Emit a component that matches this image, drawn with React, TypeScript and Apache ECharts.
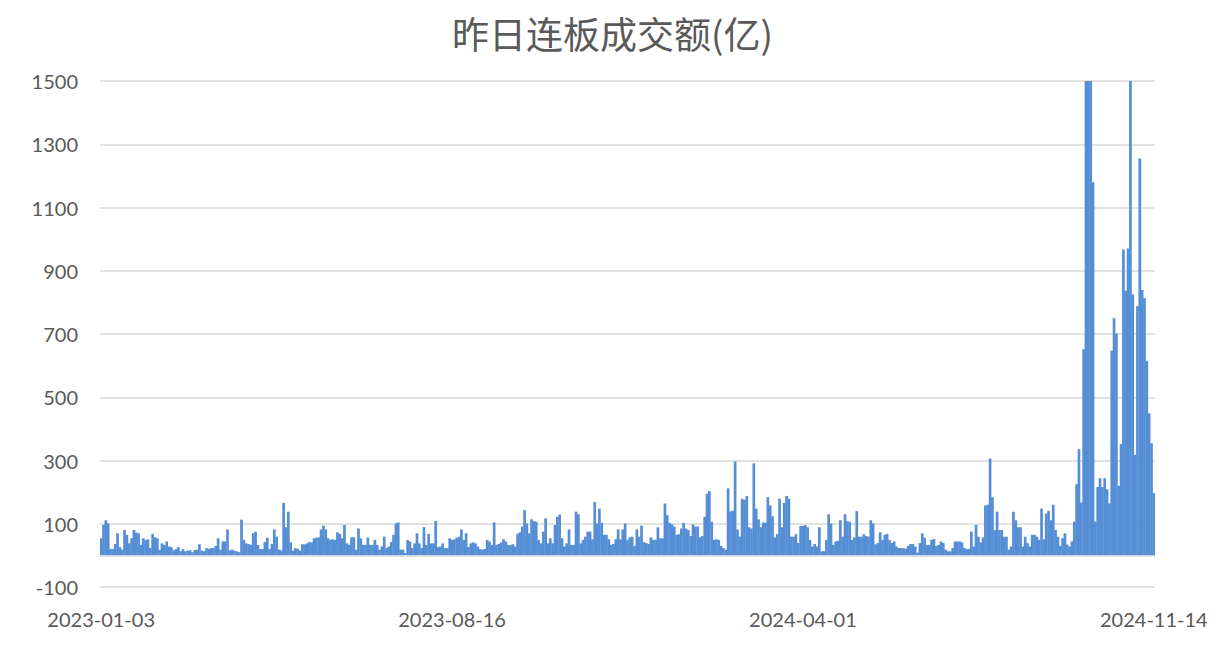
import React, { useEffect, useRef } from "react";
import * as echarts from "echarts";

const titleText = "昨日连板成交额(亿)";
const tickLabels = ["2023-01-03", "2023-08-16", "2024-04-01", "2024-11-14"];
const tickStep = 150;

const seg2023a = [
  54, 96, 111, 101, 20, 20, 36, 70, 26, 18,
  80, 65, 38, 54, 80, 72, 70, 33, 54, 49,
  51, 23, 68, 57, 54, 18, 38, 33, 44, 28,
  26, 16, 20, 26, 13, 20, 13, 15, 16, 10,
  17, 18, 35, 15, 13, 23, 20, 23, 23, 30,
  54, 18, 44, 44, 82, 16, 18, 15, 13, 10,
  113, 49, 38, 36, 33, 70, 75, 33, 20, 20,
  42, 56, 20, 36, 82, 59, 18, 16, 166, 89,
  138, 41, 15, 23, 21, 15, 35, 35, 38, 42,
  41, 54, 56, 57, 82, 94, 82, 54, 49, 51,
  49, 73, 68, 54, 96, 38, 33, 57, 57, 18,
  85, 54,
];
const seg2023b = [
  33, 33, 56, 33, 33, 49, 33, 18, 28, 59,
  23, 28, 42, 65, 101, 104, 18, 18, 7, 49,
  44, 23, 38, 70, 38, 23, 89, 33, 68, 38,
  38, 109, 26, 28, 38, 23, 23, 54, 49, 51,
  56, 59, 82, 49, 70, 26, 38, 41, 38, 28,
  20, 18, 20, 49, 44, 33, 104, 33, 36, 41,
  51, 44, 33, 33, 35, 28, 68, 73, 91, 143,
  101, 70, 114, 108, 106, 49, 38, 75, 117, 38,
  54, 38, 96, 122, 129, 54, 28, 38, 82, 33,
  33, 138, 130, 38, 49, 59, 75, 75, 51, 169,
  101, 148, 103, 65, 65, 51, 33, 36, 51, 82,
  51, 82, 101,
];
const seg2024a = [
  49, 57, 59, 30, 82, 59, 94, 42, 39, 36,
  57, 49, 49, 89, 54, 54, 164, 127, 103, 98,
  91, 65, 67, 85, 103, 85, 80, 61, 98, 91,
  91, 57, 61, 122, 195, 203, 106, 49, 51, 49,
  30, 23, 18, 212, 139, 141, 297, 82, 59, 179,
  176, 188, 89, 85, 291, 148, 114, 89, 104, 103,
  184, 158, 124, 57, 67, 179, 89, 166, 188, 179,
  59, 59, 67, 39, 93, 93, 96, 89, 49, 28,
  36, 28, 89, 13, 13, 49, 130, 101, 33, 44,
  46, 111, 59, 130, 108, 106, 49, 57, 140, 59,
  59, 67, 61, 59, 111, 101, 35, 39, 73, 49,
  65, 68, 49, 39,
];
const seg2024b = [
  44, 28, 23, 23, 23, 21, 30, 36, 36, 28,
  9, 39, 70, 56, 33, 33, 49, 52, 30, 33,
  44, 39, 18, 13, 13, 23, 44, 44, 44, 41,
  23, 20, 20, 75, 28, 96, 59, 41, 57, 158,
  160, 306, 184, 80, 138, 80, 80, 59, 59, 18,
  28, 138, 111, 89, 89, 28, 59, 39, 28, 65,
  65, 59, 49, 148, 51, 132, 141, 111, 160, 80,
  59, 30, 54, 70, 34, 28,
];
const seg2024c = [
  44, 107, 225, 336, 167, 652, 1600, 1700, 1550, 1180,
  107, 216, 244, 216, 244, 209, 165, 647, 750, 702,
  220, 352, 967, 837, 970, 1600, 825, 318, 788, 1255,
  839, 813, 615, 449, 355, 197,
];

const values = [...seg2023a, ...seg2023b, ...seg2024a, ...seg2024b, ...seg2024c];
const categories = values.map((_, i) =>
  i % tickStep === 0 && tickLabels[i / tickStep] ? tickLabels[i / tickStep] : String(i)
);

export default function App() {
  const ref = useRef<HTMLDivElement>(null);
  useEffect(() => {
    document.body.style.margin = "0";
    if (!ref.current) return;
    const chart = echarts.init(ref.current, null, { renderer: "svg" });
    chart.setOption({
      animation: false,
      backgroundColor: "#ffffff",
      title: {
        text: titleText,
        left: "center",
        top: 9,
        textStyle: {
          fontSize: 37,
          fontWeight: "normal",
          color: "#595959",
          fontFamily: "Noto Sans CJK SC",
        },
      },
      grid: { left: 100, right: 70, top: 81, bottom: 74, containLabel: false },
      xAxis: {
        type: "category",
        data: categories,
        boundaryGap: true,
        axisLine: { show: false, onZero: false },
        axisTick: { show: false },
        splitLine: { show: false },
        axisLabel: {
          interval: (index: number) => index % tickStep === 0,
          margin: 22,
          fontSize: 20,
          color: "#595959",
          fontFamily: "Lato",
        },
      },
      yAxis: {
        type: "value",
        min: -100,
        max: 1500,
        interval: 200,
        axisLine: { show: false },
        axisTick: { show: false },
        axisLabel: {
          margin: 22,
          fontSize: 20,
          color: "#595959",
          fontFamily: "Lato",
          formatter: (v: number) => String(v),
        },
        splitLine: { lineStyle: { color: "#d9d9d9", width: 1.5 } },
      },
      series: [
        {
          type: "bar",
          data: values,
          barWidth: 2.7,
          clip: true,
          itemStyle: { color: "#558ed5" },
          markLine: {
            silent: true,
            symbol: "none",
            label: { show: false },
            lineStyle: { color: "#d9d9d9", width: 1.5, type: "solid" },
            data: [{ yAxis: 0 }],
          },
        },
      ],
    });
    return () => chart.dispose();
  }, []);
  return <div ref={ref} style={{ width: 1225, height: 661 }} />;
}
